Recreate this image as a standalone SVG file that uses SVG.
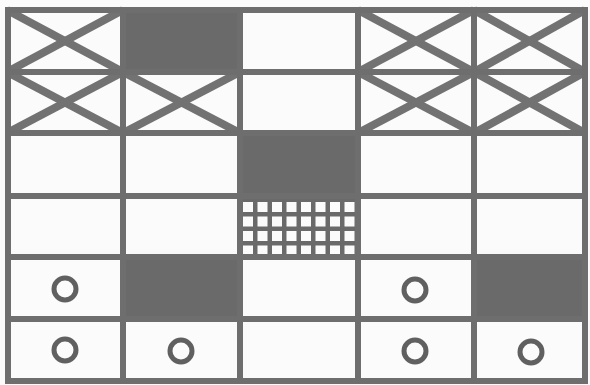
<svg xmlns="http://www.w3.org/2000/svg" width="590" height="385" viewBox="0 0 590 385">
<style>
.bg{fill:#fbfbfb}
.dark{fill:#6a6a6a}
.x{stroke:#727272;stroke-width:8;stroke-linecap:butt}
.g{stroke:#6e6e6e;stroke-width:6;fill:none}
.c{fill:none;stroke:#606060;stroke-width:5}
.sq{fill:#fbfbfb}
</style>
<rect class="bg" x="0" y="0" width="590" height="385"/>
<g id="r1c1"><line class="x" x1="7" y1="10" x2="123" y2="72"/><line class="x" x1="7" y1="72" x2="123" y2="10"/></g>
<g id="r1c2"><rect class="dark" x="123" y="10" width="117" height="62"/></g>
<g id="r1c4"><line class="x" x1="358" y1="10" x2="474" y2="72"/><line class="x" x1="358" y1="72" x2="474" y2="10"/></g>
<g id="r1c5"><line class="x" x1="474" y1="10" x2="585" y2="72"/><line class="x" x1="474" y1="72" x2="585" y2="10"/></g>
<g id="r2c1"><line class="x" x1="7" y1="72" x2="123" y2="133"/><line class="x" x1="7" y1="133" x2="123" y2="72"/></g>
<g id="r2c2"><line class="x" x1="123" y1="72" x2="240" y2="133"/><line class="x" x1="123" y1="133" x2="240" y2="72"/></g>
<g id="r2c4"><line class="x" x1="358" y1="72" x2="474" y2="133"/><line class="x" x1="358" y1="133" x2="474" y2="72"/></g>
<g id="r2c5"><line class="x" x1="474" y1="72" x2="585" y2="133"/><line class="x" x1="474" y1="133" x2="585" y2="72"/></g>
<g id="r3c3"><rect class="dark" x="240" y="133" width="118" height="63"/></g>
<g id="r4c3">
<rect class="dark" x="240" y="196" width="118" height="61"/>
<g class="sq">
<rect x="243" y="202" width="10" height="10"/><rect x="257.5" y="202" width="10" height="10"/><rect x="272" y="202" width="10" height="10"/><rect x="286.5" y="202" width="10" height="10"/><rect x="301" y="202" width="10" height="10"/><rect x="315.5" y="202" width="10" height="10"/><rect x="330" y="202" width="10" height="10"/><rect x="344.5" y="202" width="10" height="10"/>
<rect x="243" y="216.5" width="10" height="10"/><rect x="257.5" y="216.5" width="10" height="10"/><rect x="272" y="216.5" width="10" height="10"/><rect x="286.5" y="216.5" width="10" height="10"/><rect x="301" y="216.5" width="10" height="10"/><rect x="315.5" y="216.5" width="10" height="10"/><rect x="330" y="216.5" width="10" height="10"/><rect x="344.5" y="216.5" width="10" height="10"/>
<rect x="243" y="231" width="10" height="10"/><rect x="257.5" y="231" width="10" height="10"/><rect x="272" y="231" width="10" height="10"/><rect x="286.5" y="231" width="10" height="10"/><rect x="301" y="231" width="10" height="10"/><rect x="315.5" y="231" width="10" height="10"/><rect x="330" y="231" width="10" height="10"/><rect x="344.5" y="231" width="10" height="10"/>
<rect x="243" y="245.5" width="10" height="9"/><rect x="257.5" y="245.5" width="10" height="9"/><rect x="272" y="245.5" width="10" height="9"/><rect x="286.5" y="245.5" width="10" height="9"/><rect x="301" y="245.5" width="10" height="9"/><rect x="315.5" y="245.5" width="10" height="9"/><rect x="330" y="245.5" width="10" height="9"/><rect x="344.5" y="245.5" width="10" height="9"/>
</g>
</g>
<g id="r5c1"><circle class="c" cx="65" cy="289" r="11"/></g>
<g id="r5c2"><rect class="dark" x="123" y="257" width="117" height="62"/></g>
<g id="r5c4"><circle class="c" cx="415" cy="290" r="11"/></g>
<g id="r5c5"><rect class="dark" x="474" y="257" width="111" height="62"/></g>
<g id="r6c1"><circle class="c" cx="65" cy="350" r="11"/></g>
<g id="r6c2"><circle class="c" cx="181" cy="351" r="11"/></g>
<g id="r6c4"><circle class="c" cx="415" cy="351" r="11"/></g>
<g id="r6c5"><circle class="c" cx="531" cy="352" r="11"/></g>
<g id="grid" class="g">
<rect x="8" y="10" width="577" height="371"/>
<line x1="7" y1="72" x2="585" y2="72"/>
<line x1="7" y1="133" x2="585" y2="133"/>
<line x1="7" y1="196" x2="585" y2="196"/>
<line x1="7" y1="257" x2="585" y2="257"/>
<line x1="7" y1="319" x2="585" y2="319"/>
<line x1="123" y1="10" x2="123" y2="381"/>
<line x1="240" y1="10" x2="240" y2="381"/>
<line x1="358" y1="10" x2="358" y2="381"/>
<line x1="474" y1="10" x2="474" y2="381"/>
</g>
</svg>
